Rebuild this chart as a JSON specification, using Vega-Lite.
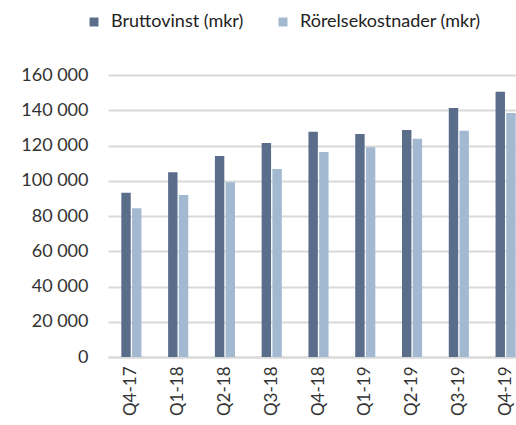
{
  "$schema": "https://vega.github.io/schema/vega-lite/v6.json",
  "autosize": "none",
  "width": 421,
  "height": 282,
  "padding": {"left": 108, "top": 75, "right": 0, "bottom": 68},
  "config": {
    "view": {"stroke": null},
    "font": "Lato",
    "locale": {"number": {"decimal": ",", "thousands": " ", "grouping": [3], "currency": ["", " kr"]}}
  },
  "data": {"values": [
    {"q": "Q4-17", "s": "Bruttovinst (mkr)", "v": 93200},
    {"q": "Q4-17", "s": "Rörelsekostnader (mkr)", "v": 84400},
    {"q": "Q1-18", "s": "Bruttovinst (mkr)", "v": 104800},
    {"q": "Q1-18", "s": "Rörelsekostnader (mkr)", "v": 91900},
    {"q": "Q2-18", "s": "Bruttovinst (mkr)", "v": 114000},
    {"q": "Q2-18", "s": "Rörelsekostnader (mkr)", "v": 99100},
    {"q": "Q3-18", "s": "Bruttovinst (mkr)", "v": 121400},
    {"q": "Q3-18", "s": "Rörelsekostnader (mkr)", "v": 106700},
    {"q": "Q4-18", "s": "Bruttovinst (mkr)", "v": 127800},
    {"q": "Q4-18", "s": "Rörelsekostnader (mkr)", "v": 116300},
    {"q": "Q1-19", "s": "Bruttovinst (mkr)", "v": 126500},
    {"q": "Q1-19", "s": "Rörelsekostnader (mkr)", "v": 119000},
    {"q": "Q2-19", "s": "Bruttovinst (mkr)", "v": 128800},
    {"q": "Q2-19", "s": "Rörelsekostnader (mkr)", "v": 123900},
    {"q": "Q3-19", "s": "Bruttovinst (mkr)", "v": 141300},
    {"q": "Q3-19", "s": "Rörelsekostnader (mkr)", "v": 128400},
    {"q": "Q4-19", "s": "Bruttovinst (mkr)", "v": 150500},
    {"q": "Q4-19", "s": "Rörelsekostnader (mkr)", "v": 138400}
  ]},
  "mark": {"type": "bar"},
  "encoding": {
    "x": {
      "field": "q", "type": "nominal", "sort": null,
      "scale": {"paddingInner": 0.57, "paddingOuter": 0.285},
      "axis": {
        "title": null, "labelAngle": -90, "labelAlign": "right", "labelBaseline": "middle",
        "labelFontSize": 17, "labelColor": "#333333", "labelPadding": 9,
        "ticks": false, "domainColor": "#d9d9d9", "domainWidth": 2
      }
    },
    "xOffset": {"field": "s", "type": "nominal", "scale": {"paddingInner": 0.12}},
    "y": {
      "field": "v", "type": "quantitative",
      "scale": {"domain": [0, 160000]},
      "axis": {
        "title": null, "values": [0, 20000, 40000, 60000, 80000, 100000, 120000, 140000, 160000],
        "format": ",d", "labelFontSize": 18, "labelColor": "#333333", "labelPadding": 20,
        "ticks": false, "domain": false, "gridColor": "#d9d9d9", "gridWidth": 2
      }
    },
    "color": {
      "field": "s", "type": "nominal",
      "scale": {"range": ["#5a6e8c", "#a3b9d1"]},
      "legend": {
        "title": null, "orient": "none", "direction": "horizontal",
        "legendX": -23, "legendY": -62,
        "symbolType": "square", "symbolSize": 80, "symbolStrokeWidth": 0,
        "labelFontSize": 18, "labelColor": "#222222", "labelOffset": 8, "labelLimit": 0,
        "columnPadding": 30
      }
    }
  }
}
